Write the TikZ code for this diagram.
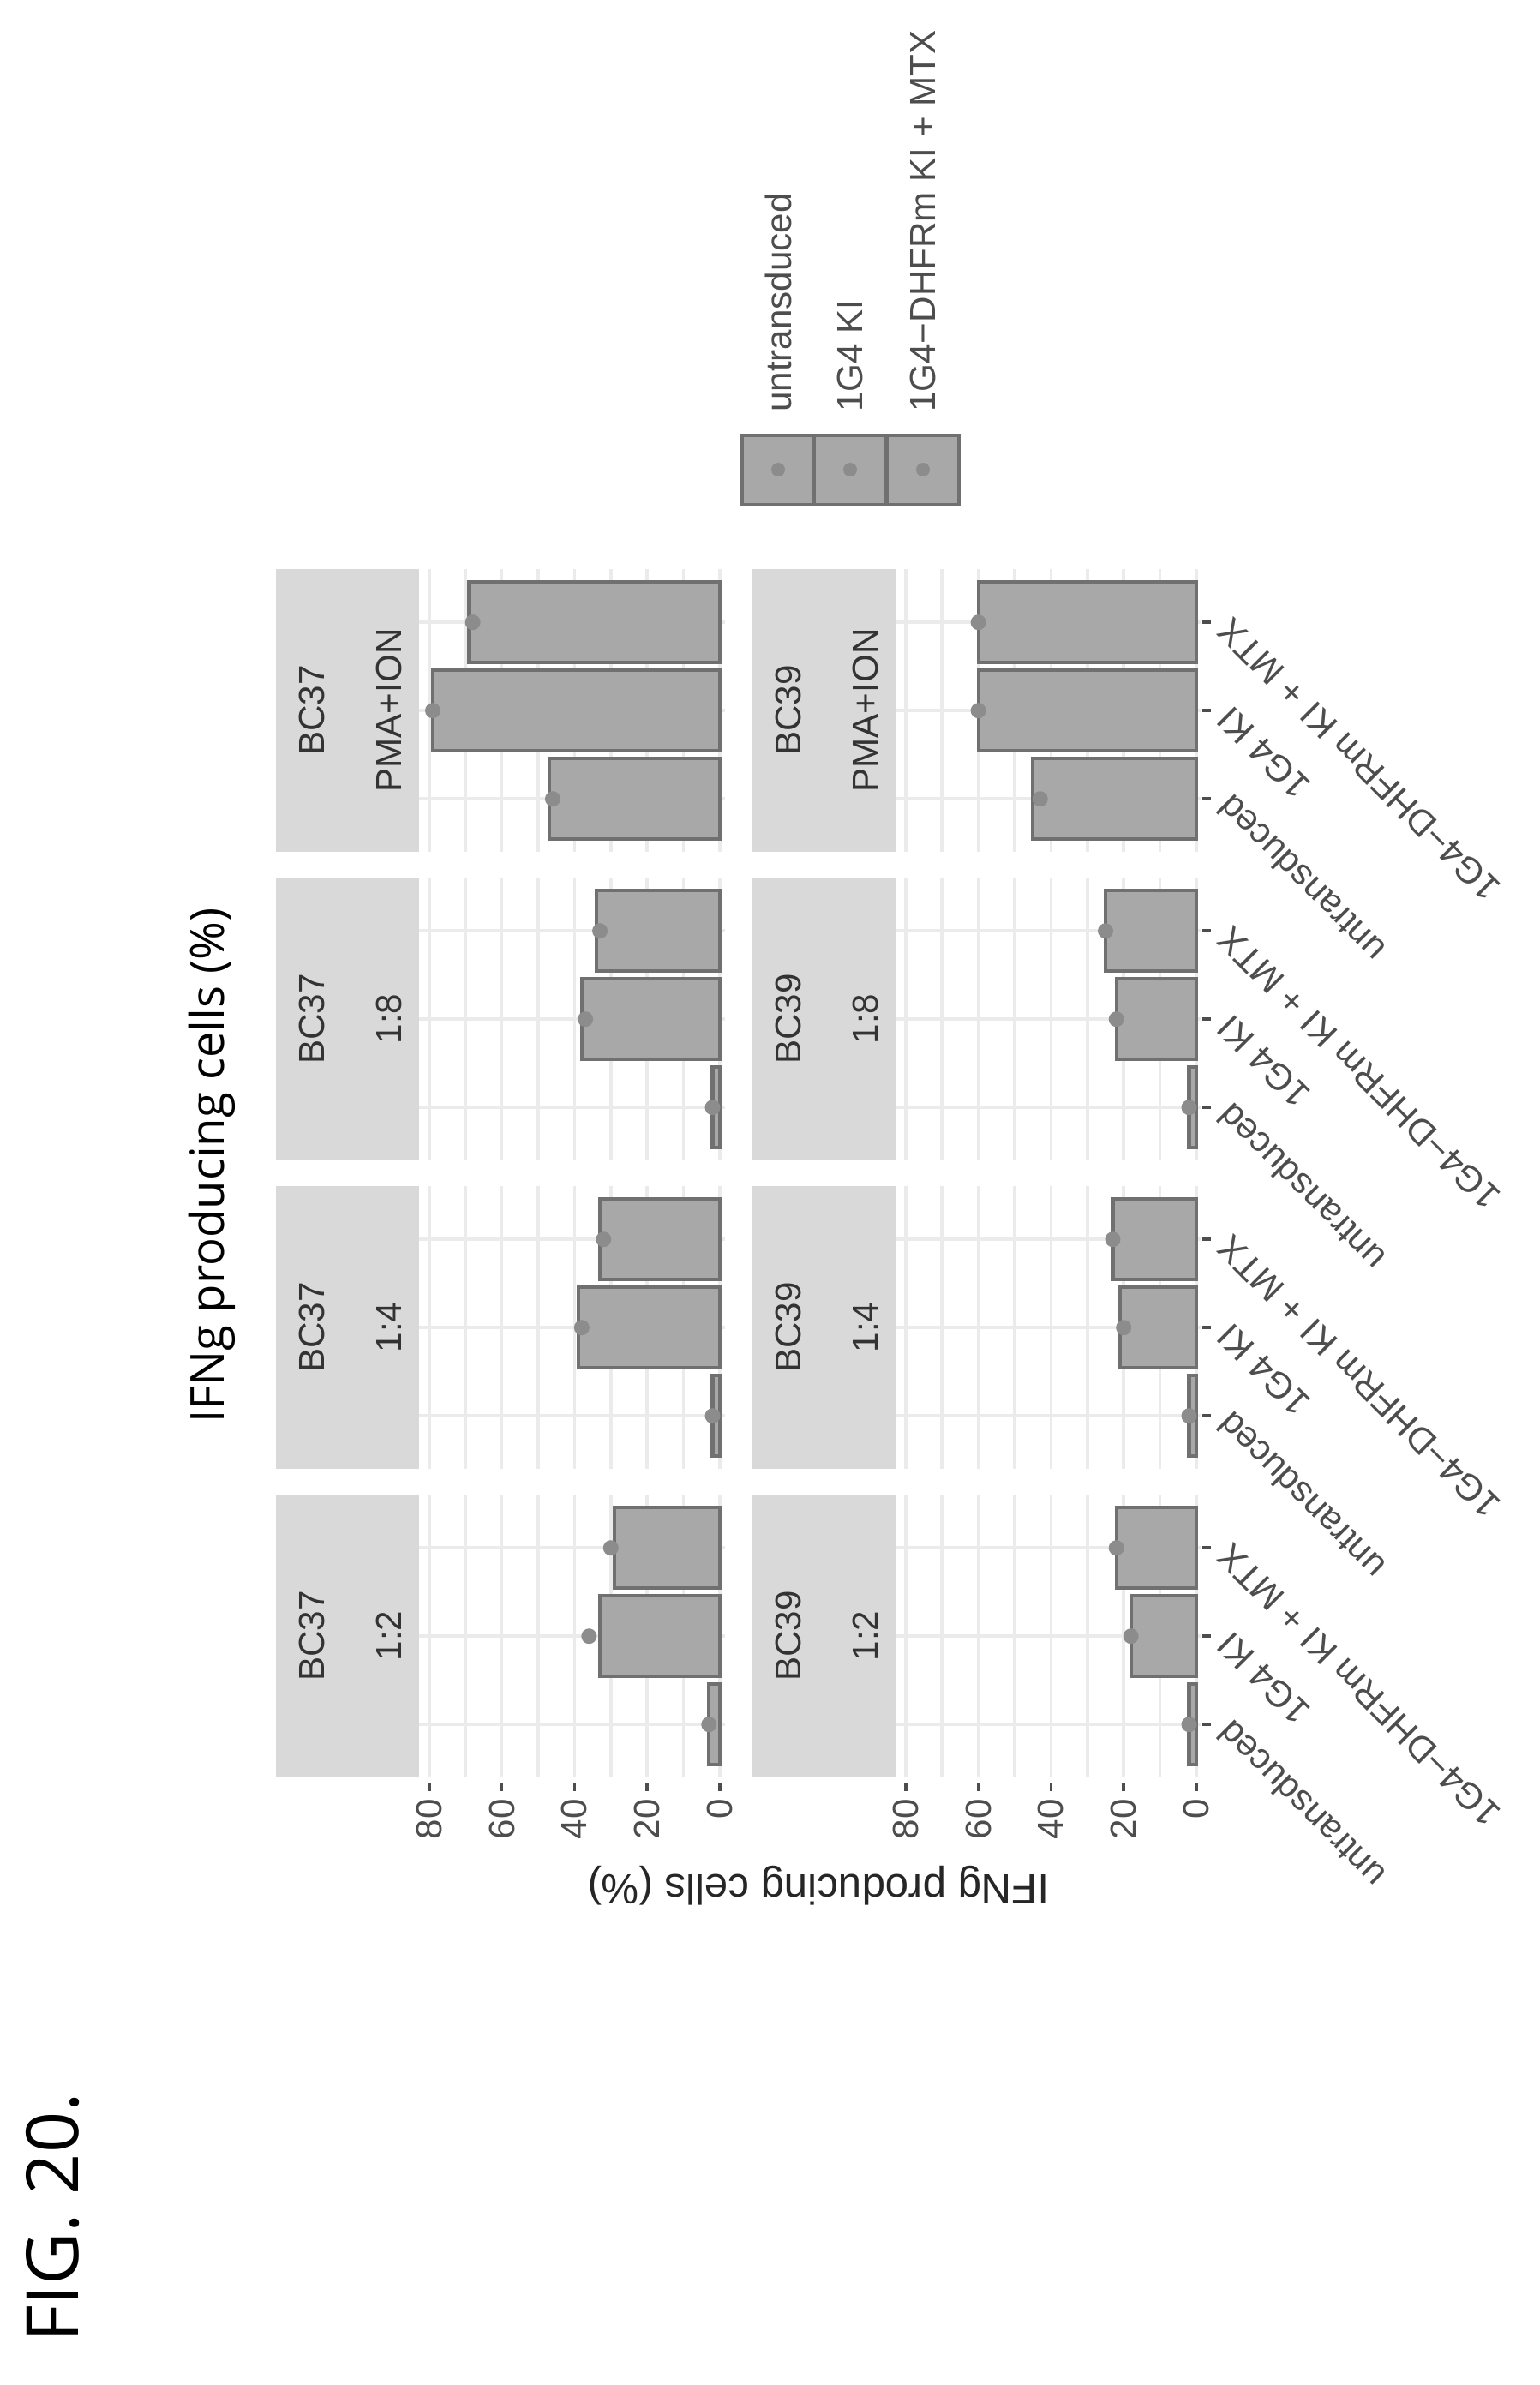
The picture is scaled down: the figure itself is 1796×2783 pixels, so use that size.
\documentclass[tikz,border=0pt]{standalone}
\usepackage{fontspec}
\setmainfont{Liberation Sans}
\newfontfamily\osans{Open Sans}
\definecolor{stripc}{HTML}{D9D9D9}
\definecolor{barc}{HTML}{A8A8A8}
\definecolor{barl}{HTML}{707070}
\definecolor{ptc}{HTML}{8C8C8C}
\definecolor{gridc}{HTML}{EBEBEB}
\definecolor{txtc}{HTML}{4D4D4D}
\begin{document}
\begin{tikzpicture}[x=0.1mm,y=-0.1mm,
  strip/.style={fill=stripc,draw=none},
  bar/.style={fill=barc,draw=barl,line width=1.2pt},
  pt/.style={fill=ptc,draw=none},
  grid/.style={draw=gridc,line width=1pt},
  tick/.style={draw=txtc,line width=1pt},
  lab/.style={font=\fontsize{12}{14}\selectfont,text=txtc,inner sep=1pt},
  stxt/.style={font=\fontsize{12}{14}\selectfont,text=black!80,rotate=90}]
\useasboundingbox[fill=white] (0,0) rectangle (1796,2783);
% facets
\foreach \r/\j/\a/\b/\c/\pa/\pb/\pc/\sa/\sb in {
  0/0/3/33/29/3/36/30/BC37/1:2, 0/1/2/39/33/2/38/32/BC37/1:4,
  0/2/2/38/34/2/37/33/BC37/1:8, 0/3/47/79/69/46/79/68/BC37/PMA+ION,
  1/0/2/18/22/2/18/22/BC39/1:2, 1/1/2/21/23/2/20/23/BC39/1:4,
  1/2/2/22/25/2/22/25/BC39/1:8, 1/3/45/60/60/43/60/60/BC39/PMA+ION}{
  \pgfmathsetmacro\base{840+556*\r}
  \pgfmathsetmacro\yb{2074-360*\j}
  \pgfmathsetmacro\yt{\yb-330}
  \pgfmathsetmacro\sl{\base-518}
  \pgfmathsetmacro\sr{\base-351}
  % strip
  \fill[strip] (\sl,\yt) rectangle (\sr,\yb);
  \node[stxt] at ({\sl+42},{\yt+165}) {\sa};
  \node[stxt] at ({\sl+132},{\yt+165}) {\sb};
  % grid
  \foreach \v in {0,10,...,80}{\draw[grid] ({\base-4.24*\v},\yt) -- ({\base-4.24*\v},\yb);}
  \foreach \k in {1,2,3}{\draw[grid] (\sr,{\yb-(\k-0.4)*103}) -- ({\base+6},{\yb-(\k-0.4)*103});}
  % bars
  \foreach \v/\p [count=\k] in {\a/\pa,\b/\pb,\c/\pc}{
    \pgfmathsetmacro\yc{\yb-(\k-0.4)*103}
    \draw[bar] ({\base-4.24*\v},{\yc-47}) rectangle (\base,{\yc+47});
    \fill[pt] ({\base-4.24*\p},\yc) circle (9);
  }
}
% y axis ticks and labels
\foreach \r in {0,1}{
  \pgfmathsetmacro\base{840+556*\r}
  \foreach \v in {0,20,...,80}{
    \draw[tick] ({\base-4.24*\v},2080) -- ({\base-4.24*\v},2090);
    \node[lab,rotate=90,anchor=east] at ({\base-4.24*\v},2095) {\v};
  }
}
% x axis ticks and labels (right side of bottom row)
\foreach \j in {0,1,2,3}{
  \pgfmathsetmacro\yb{2074-360*\j}
  \foreach \t [count=\k] in {untransduced,1G4 KI,1G4−DHFRm KI + MTX}{
    \pgfmathsetmacro\yc{\yb-(\k-0.4)*103}
    \draw[tick] (1403,\yc) -- (1413,\yc);
    \node[lab,rotate=135,anchor=east] at (1425,\yc) {\t};
  }
}
% axis title
\node[font=\fontsize{14}{16}\selectfont,text=black!85,rotate=180] at (955,2200) {IFNg producing cells (\%)};
% main title
\node[font=\osans\fontsize{15.5}{18}\selectfont,rotate=90] at (247,1360) {IFNg producing cells (\%)};
% legend
\foreach \x/\t [count=\k] in {908/untransduced,992/1G4 KI,1077/1G4−DHFRm KI + MTX}{
  \draw[fill=barc,draw=barl,line width=1pt] ({\x-42},508) rectangle ({\x+42},589);
  \fill[pt] (\x,548) circle (8);
  \node[lab,rotate=90,anchor=west] at (\x,485) {\t};
}
% figure label
\node[font=\osans\fontsize{24}{28}\selectfont,rotate=90] at (62,2588) {FIG. 20.};
\end{tikzpicture}
\end{document}
